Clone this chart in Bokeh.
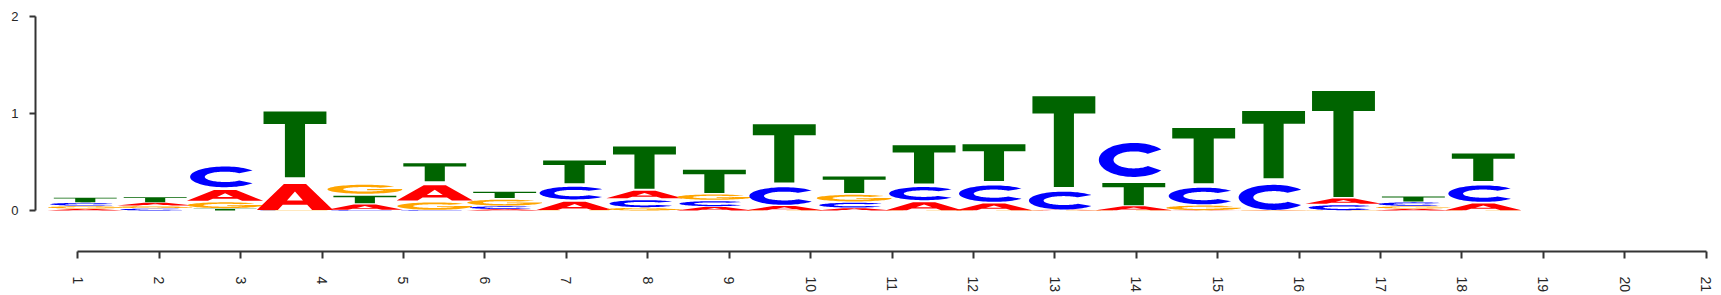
import numpy as np
from bokeh.plotting import figure
from bokeh.models import Range1d, LinearAxis, FixedTicker, ColumnDataSource
from bokeh.embed import file_html
from bokeh.resources import INLINE

# ---- data (letter heights in bits, per position) ----
positions = list(range(1, 22))
A_vals = [0.020, 0.036, 0.140, 0.337, 0.068, 0.199, 0.015, 0.110, 0.098, 0.044, 0.055,
          0.030, 0.103, 0.086, 0.007, 0.050, 0.003, 0.003, 0.070, 0.020, 0.086]
C_vals = [0.036, 0.024, 0.270, 0.003, 0.007, 0.007, 0.035, 0.166, 0.092, 0.066, 0.230,
          0.063, 0.172, 0.214, 0.233, 0.444, 0.218, 0.327, 0.066, 0.045, 0.214]
G_vals = [0.030, 0.026, 0.076, 0.003, 0.118, 0.096, 0.078, 0.004, 0.034, 0.070, 0.003,
          0.087, 0.003, 0.003, 0.003, 0.003, 0.060, 0.003, 0.003, 0.028, 0.003]
T_vals = [0.057, 0.065, 0.024, 0.857, 0.097, 0.235, 0.082, 0.297, 0.552, 0.304, 0.762,
          0.215, 0.500, 0.481, 1.184, 0.293, 0.722, 0.877, 1.384, 0.065, 0.360]
y_ticks = [0, 1, 2]
x_ticks = list(range(1, 22))

COLORS = {"A": "#FF0000", "C": "#0000FF", "G": "#FFA500", "T": "#006400"}
GLYPH_W = {"T": 0.90, "A": 1.09, "C": 1.00, "G": 1.07}
GLYPH_FILL = 0.79  # glyph occupies the lower part of its letter box


def arc(a0, a1, rx, ry, n=70):
    t = np.radians(np.linspace(a0, a1, n))
    return 0.5 + rx * np.cos(t), 0.5 + ry * np.sin(t)


def letter_rings(letter):
    if letter == "T":
        x = [0, 1, 1, 0.66, 0.66, 0.34, 0.34, 0]
        y = [1, 1, 0.81, 0.81, 0, 0, 0.81, 0.81]
        return [(np.array(x, float), np.array(y, float))]
    if letter == "A":
        xo = [0, 0.355, 0.645, 1, 0.725, 0.66, 0.34, 0.275]
        yo = [0, 1, 1, 0, 0, 0.2, 0.2, 0]
        xh = [0.395, 0.605, 0.5]
        yh = [0.36, 0.36, 0.71]
        return [(np.array(xo, float), np.array(yo, float)),
                (np.array(xh, float), np.array(yh, float))]
    if letter == "C":
        ox, oy = arc(38, 322, 0.5, 0.5)
        ix, iy = arc(314, 46, 0.29, 0.25)
        return [(np.concatenate([ox, ix]), np.concatenate([oy, iy]))]
    if letter == "G":
        ox, oy = arc(38, 355, 0.5, 0.5)
        bx = np.array([1.0, 0.53, 0.53, 0.78])
        by = np.array([0.53, 0.53, 0.40, 0.40])
        ix, iy = arc(340, 46, 0.29, 0.25)
        return [(np.concatenate([ox, bx, ix]), np.concatenate([oy, by, iy]))]


vals = {"A": A_vals, "C": C_vals, "G": G_vals, "T": T_vals}
xs, ys, cols = [], [], []
for i, pos in enumerate(positions):
    col = sorted(vals.keys(), key=lambda L: vals[L][i])
    y0 = 0.0
    for L in col:
        h = vals[L][i]
        w = GLYPH_W[L]
        rings_x, rings_y = [], []
        for ux, uy in letter_rings(L):
            rings_x.append(list(pos + (ux - 0.5) * w))
            rings_y.append(list(y0 + uy * h * GLYPH_FILL))
        xs.append([rings_x])
        ys.append([rings_y])
        cols.append(COLORS[L])
        y0 += h

src = ColumnDataSource(dict(xs=xs, ys=ys, color=cols))

p = figure(width=1721, height=295, output_backend="svg", toolbar_location=None,
           x_range=Range1d(0.288, 24.322), y_range=Range1d(-0.423, 2.103),
           x_axis_location=None, y_axis_location=None,
           min_border_left=35, min_border_right=6, min_border_top=6, min_border_bottom=44)
p.outline_line_color = None
p.background_fill_color = "white"
p.border_fill_color = "white"
p.grid.grid_line_color = None
p.grid.visible = False

p.multi_polygons(xs="xs", ys="ys", fill_color="color", line_color=None, source=src)

p.extra_x_ranges = {"ticks": Range1d(0.4805, 21.114)}

FONT = "Liberation Sans"
TXT = "#262626"

yax = LinearAxis(ticker=FixedTicker(ticks=y_ticks), bounds=(0, 2))
yax.major_tick_out = 6
yax.major_tick_in = 0
yax.minor_tick_out = 0
yax.minor_tick_in = 0
yax.axis_line_width = 2
yax.major_tick_line_width = 2
yax.axis_line_color = "#333333"
yax.major_tick_line_color = "#333333"
yax.major_label_standoff = 11
yax.major_label_text_font = FONT
yax.major_label_text_font_size = "13px"
yax.major_label_text_color = TXT
p.add_layout(yax, "left")

xax = LinearAxis(x_range_name="ticks", ticker=FixedTicker(ticks=x_ticks), bounds=(1, 21))
xax.major_label_orientation = "vertical"
xax.major_tick_out = 7
xax.major_tick_in = 0
xax.minor_tick_out = 0
xax.minor_tick_in = 0
xax.axis_line_width = 2
xax.major_tick_line_width = 2
xax.axis_line_color = "#333333"
xax.major_tick_line_color = "#333333"
xax.major_label_standoff = 18
xax.major_label_text_font = FONT
xax.major_label_text_font_size = "14px"
xax.major_label_text_color = TXT
p.add_layout(xax, "below")

open("out.html", "w").write(file_html(p, INLINE))
